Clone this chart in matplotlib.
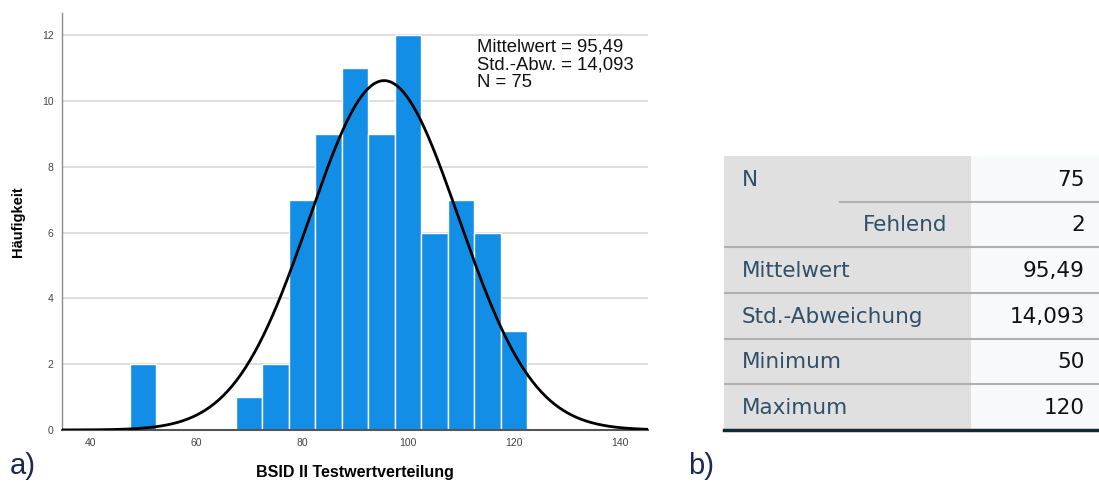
import numpy as np
import matplotlib
matplotlib.use("Agg")
import matplotlib.pyplot as plt
from matplotlib.patches import Rectangle

# Histogramm der Testwerte (Klassenbreite 5)
bin_centers = [50, 70, 75, 80, 85, 90, 95, 100, 105, 110, 115, 120]
counts = [2, 1, 2, 7, 9, 11, 9, 12, 6, 7, 6, 3]
bin_width = 5

mittelwert = 95.49
std_abw = 14.093
n_gesamt = 75

# Statistik-Tabelle
stat_labels = ["N", "Fehlend", "Mittelwert", "Std.-Abweichung", "Minimum", "Maximum"]
stat_values = ["75", "2", "95,49", "14,093", "50", "120"]

W, H = 1099, 482
fig = plt.figure(figsize=(W / 100, H / 100), dpi=100)
plt.rcParams['font.family'] = ['Liberation Sans', 'DejaVu Sans']

# --- a) Histogramm ---
ax = fig.add_axes([62 / W, 1 - 430 / H, (648 - 62) / W, (430 - 13) / H])
ax.bar(bin_centers, counts, width=bin_width, color='#128ee6',
       edgecolor='white', linewidth=1.0, zorder=2)

x = np.linspace(34, 146, 400)
kurve = n_gesamt * bin_width / (std_abw * np.sqrt(2 * np.pi)) * \
    np.exp(-0.5 * ((x - mittelwert) / std_abw) ** 2)
ax.plot(x, kurve, color='black', linewidth=2.0, zorder=3)

ax.set_xlim(34.7, 145.3)
ax.set_ylim(0, 12.67)
ax.set_xticks([40, 60, 80, 100, 120, 140])
ax.set_yticks([0, 2, 4, 6, 8, 10, 12])
ax.tick_params(length=0, labelsize=7.5, labelcolor='#444444', pad=6)
ax.yaxis.grid(True, color='#d8d8d8', linewidth=1.2, zorder=0)
ax.set_axisbelow(True)
for s in ['top', 'right']:
    ax.spines[s].set_visible(False)
ax.spines['left'].set_color('#8c8c8c')
ax.spines['left'].set_linewidth(1.0)
ax.spines['bottom'].set_color('#555555')
ax.spines['bottom'].set_linewidth(1.5)

ax.set_xlabel("BSID II Testwertverteilung", fontsize=11.5, fontweight='bold', labelpad=12)
ax.set_ylabel("Häufigkeit", fontsize=10.5, fontweight='bold', labelpad=12)

info = "Mittelwert = {}\nStd.-Abw. = {}\nN = {}".format(
    f"{mittelwert:.2f}".replace('.', ','), f"{std_abw:.3f}".replace('.', ','), n_gesamt)
ax.text(0.708, 0.938, info, transform=ax.transAxes, fontsize=13.3,
        va='top', ha='left', linespacing=1.05, color='#111111')

fig.text(10 / W, 1 - 466 / H, "a)", fontsize=21, va='center', ha='left', color='#1c2a50')
fig.text(688 / W, 1 - 466 / H, "b)", fontsize=21, va='center', ha='left', color='#1c2a50')

# --- b) Tabelle ---
tx0, tx1, ty0, ty1 = 724, 1099, 156, 430
ta = fig.add_axes([tx0 / W, 1 - ty1 / H, (tx1 - tx0) / W, (ty1 - ty0) / H])
ta.set_xlim(0, tx1 - tx0)
ta.set_ylim(len(stat_labels), 0)
ta.axis('off')

col_split = 971 - tx0
ta.add_patch(Rectangle((0, 0), col_split, len(stat_labels), color='#e0e0e0', lw=0))
ta.add_patch(Rectangle((col_split, 0), tx1 - tx0 - col_split, len(stat_labels),
                       color='#f8f9fb', lw=0))

text_col = '#2f5068'
fs = 15.5
tab_font = 'DejaVu Sans'
for i, (lab, val) in enumerate(zip(stat_labels, stat_values)):
    yc = i + 0.52
    if lab == "Fehlend":
        ta.text(947 - tx0, yc, lab, ha='right', va='center', fontsize=fs,
                color=text_col, family=tab_font)
    else:
        ta.text(742 - tx0, yc, lab, ha='left', va='center', fontsize=fs,
                color=text_col, family=tab_font)
    ta.text(1085 - tx0, yc, val, ha='right', va='center', fontsize=fs,
            color='#111111', family=tab_font)

# Trennlinien
ta.plot([840 - tx0, tx1 - tx0], [1, 1], color='#b0b0b0', lw=1.5)
for i in range(2, len(stat_labels)):
    ta.plot([0, tx1 - tx0], [i, i], color='#b0b0b0', lw=1.5)
ta.plot([0, tx1 - tx0], [len(stat_labels), len(stat_labels)], color='#152935', lw=2.5,
        clip_on=False)

fig.savefig("out.png", dpi=100)
